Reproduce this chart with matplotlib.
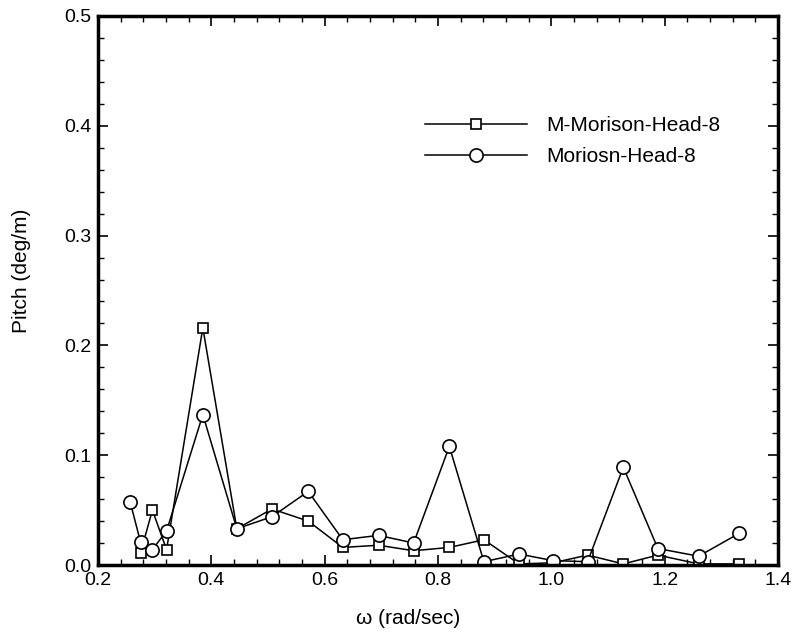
import matplotlib
matplotlib.use("Agg")
import matplotlib.pyplot as plt
from matplotlib.ticker import MultipleLocator

plt.rcParams["font.family"] = ["Liberation Sans", "DejaVu Sans"]

# Data
omega_sq = [0.275, 0.296, 0.321, 0.385, 0.445, 0.507, 0.571, 0.632, 0.695, 0.757,
            0.820, 0.881, 0.943, 1.003, 1.064, 1.127, 1.188, 1.260, 1.332]
pitch_sq = [0.011, 0.050, 0.014, 0.216, 0.033, 0.051, 0.040, 0.016, 0.018, 0.013,
            0.016, 0.023, 0.001, 0.002, 0.009, 0.001, 0.009, 0.001, 0.001]

omega_ci = [0.257, 0.275, 0.296, 0.321, 0.385, 0.445, 0.507, 0.571, 0.632, 0.695,
            0.757, 0.820, 0.881, 0.943, 1.003, 1.064, 1.127, 1.188, 1.260, 1.332]
pitch_ci = [0.057, 0.021, 0.014, 0.031, 0.137, 0.033, 0.044, 0.067, 0.023, 0.027,
            0.020, 0.108, 0.003, 0.010, 0.004, 0.003, 0.089, 0.015, 0.008, 0.029]

W, H = 799, 637
fig = plt.figure(figsize=(W / 100, H / 100), dpi=100)
ax = fig.add_axes([98 / W, 1 - 565 / H, 680 / W, 549 / H])

ax.plot(omega_sq, pitch_sq, color="black", lw=1.1, marker="s", ms=7,
        mfc="white", mec="black", mew=1.2, label="M-Morison-Head-8")
ax.plot(omega_ci, pitch_ci, color="black", lw=1.1, marker="o", ms=9.5,
        mfc="white", mec="black", mew=1.2, label="Moriosn-Head-8")

ax.set_xlim(0.2, 1.4)
ax.set_ylim(0.0, 0.5)
ax.xaxis.set_major_locator(MultipleLocator(0.2))
ax.xaxis.set_minor_locator(MultipleLocator(0.04))
ax.yaxis.set_major_locator(MultipleLocator(0.1))
ax.yaxis.set_minor_locator(MultipleLocator(0.02))
ax.xaxis.set_major_formatter(plt.FuncFormatter(lambda v, _: f"{v:.1f}"))
ax.yaxis.set_major_formatter(plt.FuncFormatter(lambda v, _: f"{v:.1f}"))

ax.tick_params(which="both", direction="in", top=True, right=True, labelsize=14)
ax.tick_params(which="major", length=7, width=1.2, pad=5)
ax.tick_params(which="minor", length=4, width=1)
for s in ax.spines.values():
    s.set_linewidth(2.5)

# axis titles sit off-centre in the reference
fig.text(408 / W, 1 - 618 / H, "ω (rad/sec)", fontsize=15, ha="center", va="center")
fig.text(22 / W, 1 - 271 / H, "Pitch (deg/m)", fontsize=15, ha="center",
         va="center", rotation=90)

ax.legend(loc="upper left", bbox_to_anchor=(425 / W, 1 - 116 / H),
          bbox_transform=fig.transFigure, frameon=False, fontsize=15,
          handlelength=4.9, handletextpad=0.9, labelspacing=0.6,
          borderpad=0, borderaxespad=0)

fig.savefig("out.png", dpi=100)
